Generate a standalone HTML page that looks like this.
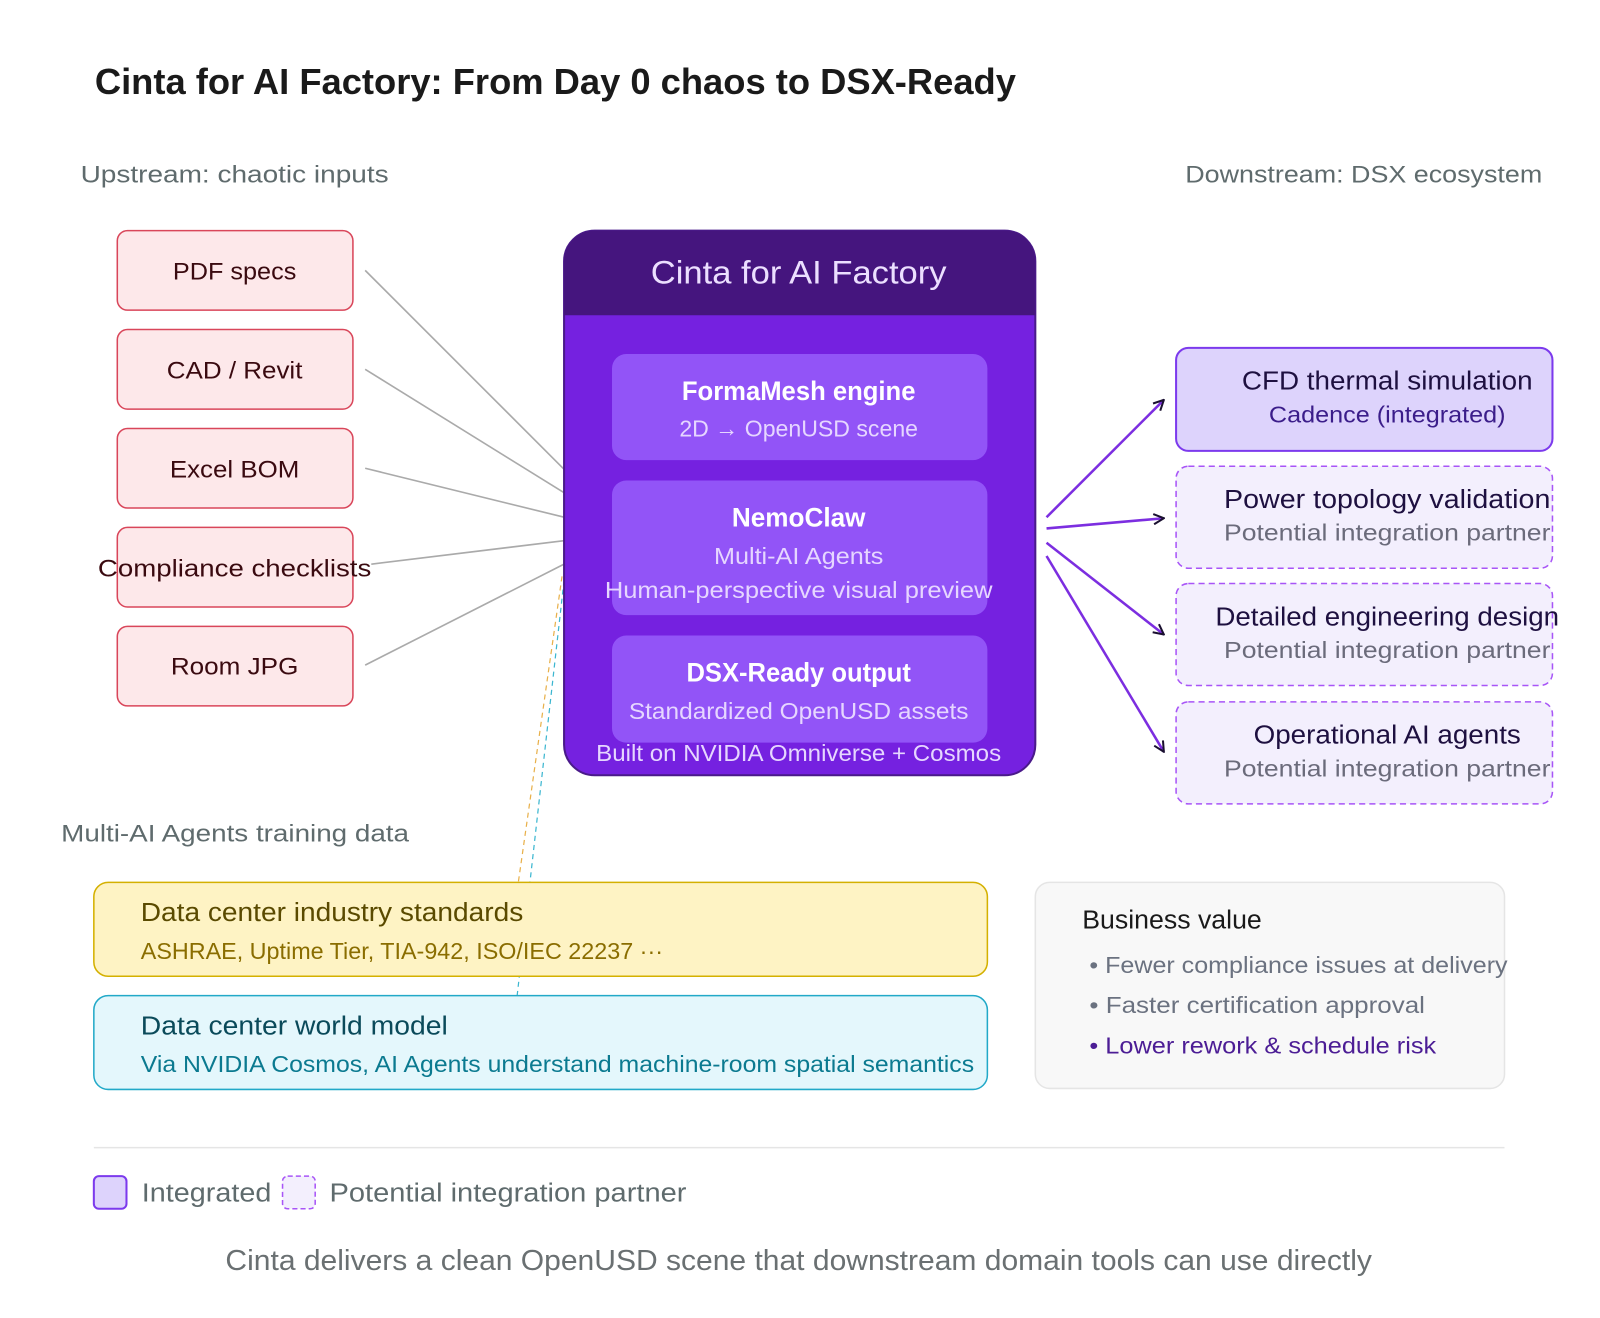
<!DOCTYPE html>
<html><head><meta charset="utf-8"><style>html,body{margin:0;padding:0;background:#fff}svg{display:block}text{font-family:"Liberation Sans",sans-serif}</style></head><body>
<svg width="1600" height="1318" viewBox="0 0 1568.6 1292" xmlns="http://www.w3.org/2000/svg">
<defs>
<marker id="ah" viewBox="0 0 12 12" refX="11" refY="6" markerWidth="12" markerHeight="12" markerUnits="userSpaceOnUse" orient="auto"><path d="M1,1 L11,6 L1,11" fill="none" stroke="#1a1030" stroke-width="2"/></marker>
</defs>
<rect width="1570" height="1292" fill="#fff"/>
<text x="93" y="92" font-size="35" font-weight="bold" fill="#1a1a1a" textLength="903" lengthAdjust="spacingAndGlyphs">Cinta for AI Factory: From Day 0 chaos to DSX-Ready</text>
<text x="79" y="179" font-size="24" fill="#5f6b6d" textLength="302" lengthAdjust="spacingAndGlyphs">Upstream: chaotic inputs</text>
<text x="1162" y="179" font-size="24" fill="#5f6b6d" textLength="350" lengthAdjust="spacingAndGlyphs">Downstream: DSX ecosystem</text>

<g stroke="#aaa" stroke-width="1.6">
<line x1="358" y1="265" x2="553" y2="460"/><line x1="358" y1="362" x2="553" y2="483"/><line x1="358" y1="459" x2="553" y2="507"/><line x1="364" y1="553" x2="553" y2="530"/><line x1="358" y1="652" x2="553" y2="553"/>
</g>
<line x1="551" y1="565" x2="508" y2="866" stroke="#e8b04a" stroke-width="1.2" stroke-dasharray="5,4"/>
<line x1="554" y1="560" x2="507" y2="976" stroke="#3bb6d0" stroke-width="1.2" stroke-dasharray="5,4"/>

<g fill="#fde8ea" stroke="#d9465a" stroke-width="1.5">
<rect x="115" y="226" width="231" height="78" rx="10"/><rect x="115" y="323" width="231" height="78" rx="10"/><rect x="115" y="420" width="231" height="78" rx="10"/><rect x="115" y="517" width="231" height="78" rx="10"/><rect x="115" y="614" width="231" height="78" rx="10"/>
</g>
<g font-size="24" fill="#3a0a10" text-anchor="middle">
<text x="230" y="274" textLength="121" lengthAdjust="spacingAndGlyphs">PDF specs</text>
<text x="230" y="371" textLength="133" lengthAdjust="spacingAndGlyphs">CAD / Revit</text>
<text x="230" y="468" textLength="127" lengthAdjust="spacingAndGlyphs">Excel BOM</text>
<text x="230" y="565" textLength="268" lengthAdjust="spacingAndGlyphs">Compliance checklists</text>
<text x="230" y="661" textLength="125" lengthAdjust="spacingAndGlyphs">Room JPG</text>
</g>

<rect x="553" y="226" width="462" height="534" rx="30" fill="#7521e0" stroke="#4a1a8a" stroke-width="2"/>
<path d="M553,309 V256 A30,30 0 0 1 583,226 H985 A30,30 0 0 1 1015,256 V309 Z" fill="#45157e"/>
<text x="783" y="278" font-size="32" fill="#ecdfff" text-anchor="middle" textLength="290" lengthAdjust="spacingAndGlyphs">Cinta for AI Factory</text>
<g fill="#9254f7"><rect x="600" y="347" width="368" height="104" rx="14"/><rect x="600" y="471" width="368" height="132" rx="14"/><rect x="600" y="623" width="368" height="105" rx="14"/></g>
<g text-anchor="middle">
<text x="783" y="392" font-size="26" font-weight="bold" fill="#fff" textLength="229" lengthAdjust="spacingAndGlyphs">FormaMesh engine</text>
<text x="783" y="428" font-size="23" fill="#e6d6ff" textLength="234" lengthAdjust="spacingAndGlyphs">2D → OpenUSD scene</text>
<text x="783" y="516" font-size="26" font-weight="bold" fill="#fff" textLength="131" lengthAdjust="spacingAndGlyphs">NemoClaw</text>
<text x="783" y="553" font-size="23" fill="#e6d6ff" textLength="166" lengthAdjust="spacingAndGlyphs">Multi-AI Agents</text>
<text x="783" y="586" font-size="23" fill="#e6d6ff" textLength="380" lengthAdjust="spacingAndGlyphs">Human-perspective visual preview</text>
<text x="783" y="668" font-size="26" font-weight="bold" fill="#fff" textLength="220" lengthAdjust="spacingAndGlyphs">DSX-Ready output</text>
<text x="783" y="705" font-size="23" fill="#e6d6ff" textLength="333" lengthAdjust="spacingAndGlyphs">Standardized OpenUSD assets</text>
<text x="783" y="746" font-size="23" fill="#e6d6ff" textLength="397" lengthAdjust="spacingAndGlyphs">Built on NVIDIA Omniverse + Cosmos</text>
</g>

<g stroke="#7c2ee0" stroke-width="2.5" marker-end="url(#ah)">
<line x1="1026" y1="507" x2="1141" y2="392"/><line x1="1026" y1="518" x2="1141" y2="508"/><line x1="1026" y1="532" x2="1141" y2="622"/><line x1="1026" y1="545" x2="1141" y2="737"/>
</g>

<rect x="1153" y="341" width="369" height="101" rx="12" fill="#ddd3fc" stroke="#7c3aed" stroke-width="2"/>
<g fill="#f3effd" stroke="#a855f7" stroke-width="1.5" stroke-dasharray="6,4">
<rect x="1153" y="457" width="369" height="100" rx="12"/><rect x="1153" y="572" width="369" height="100" rx="12"/><rect x="1153" y="688" width="369" height="100" rx="12"/>
</g>
<g text-anchor="middle">
<text x="1360" y="382" font-size="25" fill="#1e1040" textLength="285" lengthAdjust="spacingAndGlyphs">CFD thermal simulation</text>
<text x="1360" y="414" font-size="23" fill="#3b1d8a" textLength="232" lengthAdjust="spacingAndGlyphs">Cadence (integrated)</text>
<text x="1360" y="498" font-size="25" fill="#1e1040" textLength="320" lengthAdjust="spacingAndGlyphs">Power topology validation</text>
<text x="1360" y="530" font-size="23" fill="#6b6b7b" textLength="320" lengthAdjust="spacingAndGlyphs">Potential integration partner</text>
<text x="1360" y="613" font-size="25" fill="#1e1040" textLength="337" lengthAdjust="spacingAndGlyphs">Detailed engineering design</text>
<text x="1360" y="645" font-size="23" fill="#6b6b7b" textLength="320" lengthAdjust="spacingAndGlyphs">Potential integration partner</text>
<text x="1360" y="729" font-size="25" fill="#1e1040" textLength="262" lengthAdjust="spacingAndGlyphs">Operational AI agents</text>
<text x="1360" y="761" font-size="23" fill="#6b6b7b" textLength="320" lengthAdjust="spacingAndGlyphs">Potential integration partner</text>
</g>

<text x="60" y="825" font-size="24" fill="#5f6b6d" textLength="341" lengthAdjust="spacingAndGlyphs">Multi-AI Agents training data</text>
<rect x="92" y="865" width="876" height="92" rx="14" fill="#fef3c4" stroke="#d4b000" stroke-width="1.5"/>
<text x="138" y="903" font-size="25" fill="#5a4a00" textLength="375" lengthAdjust="spacingAndGlyphs">Data center industry standards</text>
<text x="138" y="940" font-size="23" fill="#8a6d00" textLength="512" lengthAdjust="spacingAndGlyphs">ASHRAE, Uptime Tier, TIA-942, ISO/IEC 22237 ···</text>
<rect x="92" y="976" width="876" height="92" rx="14" fill="#e4f7fc" stroke="#22a9c8" stroke-width="1.5"/>
<text x="138" y="1014" font-size="25" fill="#0a4a5a" textLength="301" lengthAdjust="spacingAndGlyphs">Data center world model</text>
<text x="138" y="1051" font-size="23" fill="#0b7a90" textLength="817" lengthAdjust="spacingAndGlyphs">Via NVIDIA Cosmos, AI Agents understand machine-room spatial semantics</text>

<rect x="1015" y="865" width="460" height="202" rx="14" fill="#f8f8f8" stroke="#e5e5e5" stroke-width="1.5"/>
<text x="1061" y="910" font-size="25" fill="#1a1a1a" textLength="176" lengthAdjust="spacingAndGlyphs">Business value</text>
<text x="1068" y="954" font-size="23" fill="#6b7280" textLength="410" lengthAdjust="spacingAndGlyphs">• Fewer compliance issues at delivery</text>
<text x="1068" y="993" font-size="23" fill="#6b7280" textLength="329" lengthAdjust="spacingAndGlyphs">• Faster certification approval</text>
<text x="1068" y="1033" font-size="23" fill="#4c1d95" textLength="340" lengthAdjust="spacingAndGlyphs">• Lower rework &amp; schedule risk</text>

<line x1="92" y1="1125" x2="1475" y2="1125" stroke="#e5e5e5" stroke-width="1.5"/>
<rect x="92" y="1153" width="32" height="32" rx="5" fill="#ddd3fc" stroke="#7c3aed" stroke-width="2"/>
<text x="139" y="1178" font-size="25" fill="#5f6b6d" textLength="127" lengthAdjust="spacingAndGlyphs">Integrated</text>
<rect x="277" y="1153" width="32" height="32" rx="5" fill="#f3effd" stroke="#a855f7" stroke-width="1.5" stroke-dasharray="5,3"/>
<text x="323" y="1178" font-size="25" fill="#5f6b6d" textLength="350" lengthAdjust="spacingAndGlyphs">Potential integration partner</text>
<text x="783" y="1245" font-size="28" fill="#6a7072" text-anchor="middle" textLength="1124" lengthAdjust="spacingAndGlyphs">Cinta delivers a clean OpenUSD scene that downstream domain tools can use directly</text>
</svg>
</body></html>
